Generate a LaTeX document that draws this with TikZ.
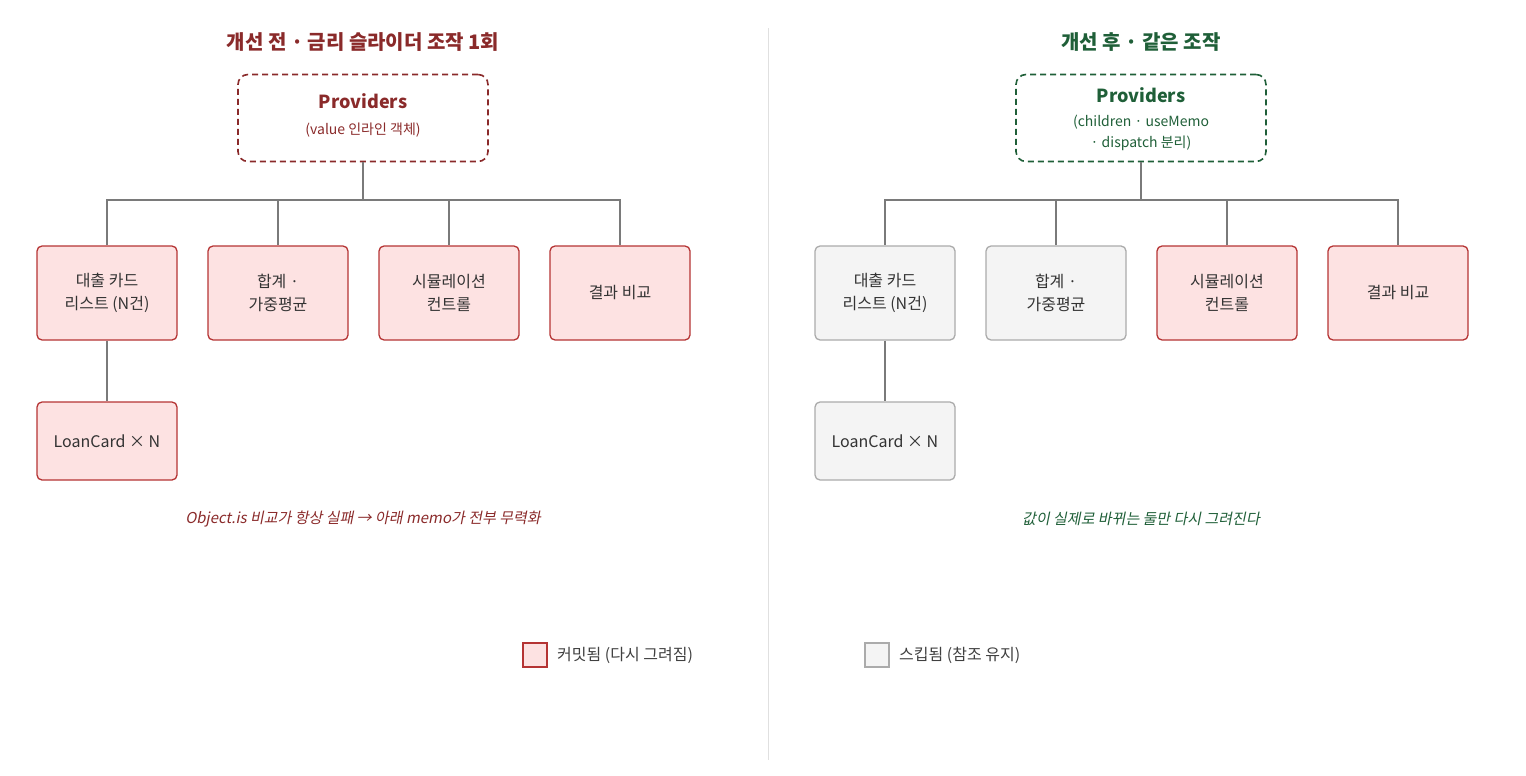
\documentclass[tikz,border=0pt]{standalone}
\usepackage{fontspec}
\setmainfont{Noto Sans CJK KR}[ItalicFont=Noto Sans CJK KR,ItalicFeatures={FakeSlant=0.2}]
\usetikzlibrary{positioning}
\definecolor{darkred}{HTML}{8A2A2A}
\definecolor{redline}{HTML}{B53434}
\definecolor{redfill}{HTML}{FDE2E2}
\definecolor{darkgreen}{HTML}{1F5F38}
\definecolor{grayline}{HTML}{ABABAB}
\definecolor{grayfill}{HTML}{F4F4F4}
\definecolor{wire}{HTML}{7A7A7A}
\tikzset{
  title/.style={font=\fontsize{20}{22}\selectfont\bfseries},
  prov/.style={draw,dashed,line width=1.6pt,dash pattern=on 6pt off 4pt,rounded corners=10pt,
    minimum width=250pt,minimum height=87pt,align=center},
  hot/.style={draw=redline,fill=redfill,line width=1.3pt,rounded corners=5pt,
    minimum width=140pt,minimum height=94pt,align=center,text=black!80,font=\fontsize{16}{23}\selectfont},
  cold/.style={hot,draw=grayline,fill=grayfill},
  wired/.style={wire,line width=1.3pt},
  note/.style={font=\fontsize{15}{17}\selectfont\itshape},
}
\begin{document}
\begin{tikzpicture}[x=1pt,y=-1pt]
\useasboundingbox (0,0) rectangle (1526,776);
\draw[black!12,line width=1pt](768,28)--(768,760);
%left side
\node[title,text=darkred] (tl) at (363,42) {개선 전 · 금리 슬라이더 조작 1회};
\node[prov,draw=darkred] (pl) at (363,118) {};
\node[text=darkred,font=\fontsize{18}{20}\selectfont\bfseries] at (363,101) {Providers};
\node[text=darkred,font=\fontsize{14}{16}\selectfont] at (363,130) {(value 인라인 객체)};
\node[hot] (l1) at (107,293) {대출 카드\\리스트 (N건)};
\node[hot] (l2) at (278,293) {합계 ·\\가중평균};
\node[hot] (l3) at (449,293) {시뮬레이션\\컨트롤};
\node[hot] (l4) at (620,293) {결과 비교};
\node[hot,minimum height=78pt] (l5) at (107,441) {LoanCard × N};
\draw[wired](pl.south)--(363,200);
\foreach \c in {l1,l2,l3,l4}
  \draw[wired](363,200)-|(\c.north);
\draw[wired](l1)--(l5);
\node[note,text=darkred] (nl) at (363,519) {Object.is 비교가 항상 실패 → 아래 memo가 전부 무력화};
%right side
\node[title,text=darkgreen] (tr) at (1141,42) {개선 후 · 같은 조작};
\node[prov,draw=darkgreen] (pr) at (1141,118) {};
\node[text=darkgreen,font=\fontsize{18}{20}\selectfont\bfseries] at (1141,95) {Providers};
\node[text=darkgreen,font=\fontsize{14}{21}\selectfont,align=center] at (1141,133) {(children · useMemo\\· dispatch 분리)};
\node[cold] (r1) at (885,293) {대출 카드\\리스트 (N건)};
\node[cold] (r2) at (1056,293) {합계 ·\\가중평균};
\node[hot] (r3) at (1227,293) {시뮬레이션\\컨트롤};
\node[hot] (r4) at (1398,293) {결과 비교};
\node[cold,minimum height=78pt] (r5) at (885,441) {LoanCard × N};
\draw[wired](pr.south)--(1141,200);
\foreach \c in {r1,r2,r3,r4}
  \draw[wired](1141,200)-|(\c.north);
\draw[wired](r1)--(r5);
\node[note,text=darkgreen] (nr) at (1141,519) {값이 실제로 바뀌는 둘만 다시 그려진다};
%legend
\node[draw=redline,fill=redfill,line width=1.3pt,minimum size=24pt,inner sep=0pt] (k1) at (535,655) {};
\node[right=6pt of k1,font=\fontsize{16}{18}\selectfont,text=black!75] {커밋됨 (다시 그려짐)};
\node[draw=grayline,fill=grayfill,line width=1.3pt,minimum size=24pt,inner sep=0pt] (k2) at (877,655) {};
\node[right=6pt of k2,font=\fontsize{16}{18}\selectfont,text=black!75] {스킵됨 (참조 유지)};
\end{tikzpicture}
\end{document}
